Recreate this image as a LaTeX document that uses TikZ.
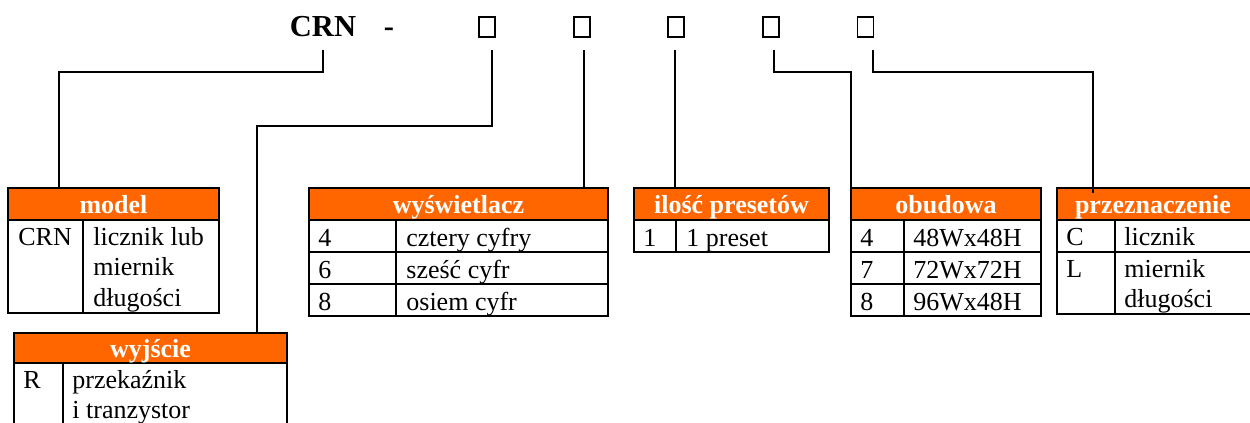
\documentclass[tikz,border=0pt]{standalone}
\usepackage{fontspec}
\setmainfont{Liberation Serif}
\usetikzlibrary{fit,calc}
\definecolor{hdrorange}{HTML}{FF6600}
\tikzset{
  conn/.style={line width=1pt, shorten <=6pt},
  frame/.style={line width=1.35pt},
  gridline/.style={line width=1.1pt},
  hdr/.style={fill=hdrorange},
  htext/.style={anchor=base, inner sep=0pt, text=white, font=\bfseries\fontsize{13}{15}\selectfont},
  ctext/.style={anchor=base west, inner sep=0pt, font=\fontsize{13}{15}\selectfont},
  sqbox/.style={draw, line width=0.75pt, minimum width=8pt, minimum height=10pt, inner sep=0pt},
  tbl/.style={inner sep=0pt}
}
\begin{document}
\begin{tikzpicture}[x=0.5pt,y=-0.5pt]
\useasboundingbox (0,0) rectangle (1250,423);
\clip (0,0) rectangle (1250,423);

% title code
\node[anchor=base, inner sep=0pt, font=\bfseries\fontsize{15.25}{18}\selectfont] (crn) at (323,37) {CRN};
\node[anchor=base, inner sep=0pt, font=\bfseries\fontsize{15.25}{18}\selectfont] (dash) at (389,37) {-};
\node[sqbox] (sq1) at (487,27) {};
\node[sqbox] (sq2) at (582,27) {};
\node[sqbox] (sq3) at (676,27) {};
\node[sqbox] (sq4) at (771,27) {};
\node[sqbox] (sq5) at (865.5,27) {};

% table frames as nodes
\node[tbl, fit={(8,188) (219,313)}] (model) {};
\node[tbl, fit={(14,333) (287,430)}] (wyj) {};
\node[tbl, fit={(309,188) (608,316)}] (wys) {};
\node[tbl, fit={(634,188) (829,252)}] (ilo) {};
\node[tbl, fit={(851,188) (1041,316)}] (obu) {};
\node[tbl, fit={(1057,188) (1253,314)}] (prz) {};

% header fills
\fill[hdr] (8,188) rectangle (219,220);
\fill[hdr] (14,333) rectangle (287,363);
\fill[hdr] (309,188) rectangle (608,220);
\fill[hdr] (634,188) rectangle (829,220);
\fill[hdr] (851,188) rectangle (1041,220);
\fill[hdr] (1057,188) rectangle (1253,220);

% model
\draw[frame] (8,188) rectangle (219,313);
\draw[gridline] (8,220) -- (219,220);
\draw[gridline] (83,220) -- (83,313);
% wyjscie
\draw[frame] (14,333) rectangle (287,430);
\draw[gridline] (14,363) -- (287,363);
\draw[gridline] (63,363) -- (63,430);
% wyswietlacz
\draw[frame] (309,188) rectangle (608,316);
\draw[gridline] (309,220) -- (608,220);
\draw[gridline] (309,252) -- (608,252);
\draw[gridline] (309,284) -- (608,284);
\draw[gridline] (396,220) -- (396,316);
% ilosc presetow
\draw[frame] (634,188) rectangle (829,252);
\draw[gridline] (634,220) -- (829,220);
\draw[gridline] (676,220) -- (676,252);
% obudowa
\draw[frame] (851,188) rectangle (1041,316);
\draw[gridline] (851,220) -- (1041,220);
\draw[gridline] (851,252) -- (1041,252);
\draw[gridline] (851,284) -- (1041,284);
\draw[gridline] (904,220) -- (904,316);
% przeznaczenie
\draw[frame] (1057,188) rectangle (1253,314);
\draw[gridline] (1057,220) -- (1253,220);
\draw[gridline] (1057,252) -- (1253,252);
\draw[gridline] (1115,220) -- (1115,314);

% connectors
\coordinate (s0) at (crn.south);
\coordinate (s1) at ([xshift=2.5pt]sq1.south);
\coordinate (s2) at ([xshift=1pt]sq2.south);
\coordinate (s3) at ([xshift=-0.5pt]sq3.south);
\coordinate (s4) at ([xshift=1.5pt]sq4.south);
\coordinate (s5) at ([xshift=3.75pt]sq5.south);
\coordinate (hA) at (0,72);
\coordinate (hB) at (0,126);
\draw[conn] (s0) -- (s0 |- hA) -| ($(model.north west)+(51,0)$);
\draw[conn] (s1) -- (s1 |- hB) -| ($(wyj.north west)+(243,0)$);
\draw[conn] (s2) -- (s2 |- wys.north);
\draw[conn] (s3) -- (s3 |- ilo.north);
\draw[conn] (s4) -- (s4 |- hA) -| (obu.north west);
\draw[conn] (s5) -- (s5 |- hA) -| ($(prz.north west)+(36,5)$);

% header texts
\node[htext] (hmodel) at (113.5,213) {model};
\node[htext] (hwyj) at (150.5,357) {wyjście};
\node[htext] (hwys) at (458.5,213) {wyświetlacz};
\node[htext] (hilo) at (731.5,213) {ilość presetów};
\node[htext] (hobu) at (946,213) {obudowa};
\node[htext] (hprz) at (1153,213) {przeznaczenie};

% model cells
\node[ctext] (m1) at (18,245) {CRN};
\node[ctext] (m2) at (93,245) {licznik lub};
\node[ctext] (m3) at (93,275) {miernik};
\node[ctext] (m4) at (93,306) {długości};
% wyjscie cells
\node[ctext] (w1) at (23,388) {R};
\node[ctext] (w2) at (72,388) {przekaźnik};
\node[ctext] (w3) at (72,418) {i tranzystor};
% wyswietlacz cells
\node[ctext] (d1) at (318,246) {4};
\node[ctext] (d2) at (406,246) {cztery cyfry};
\node[ctext] (d3) at (318,278) {6};
\node[ctext] (d4) at (406,278) {sześć cyfr};
\node[ctext] (d5) at (318,310) {8};
\node[ctext] (d6) at (406,310) {osiem cyfr};
% ilosc cells
\node[ctext] (i1) at (643,246) {1};
\node[ctext] (i2) at (686,246) {1 preset};
% obudowa cells
\node[ctext] (o1) at (860,246) {4};
\node[ctext] (o2) at (913,246) {48Wx48H};
\node[ctext] (o3) at (860,278) {7};
\node[ctext] (o4) at (913,278) {72Wx72H};
\node[ctext] (o5) at (860,310) {8};
\node[ctext] (o6) at (913,310) {96Wx48H};
% przeznaczenie cells
\node[ctext] (p1) at (1066,245) {C};
\node[ctext] (p2) at (1124,245) {licznik};
\node[ctext] (p3) at (1066,277) {L};
\node[ctext] (p4) at (1124,277) {miernik};
\node[ctext] (p5) at (1124,307) {długości};
\end{tikzpicture}
\end{document}
